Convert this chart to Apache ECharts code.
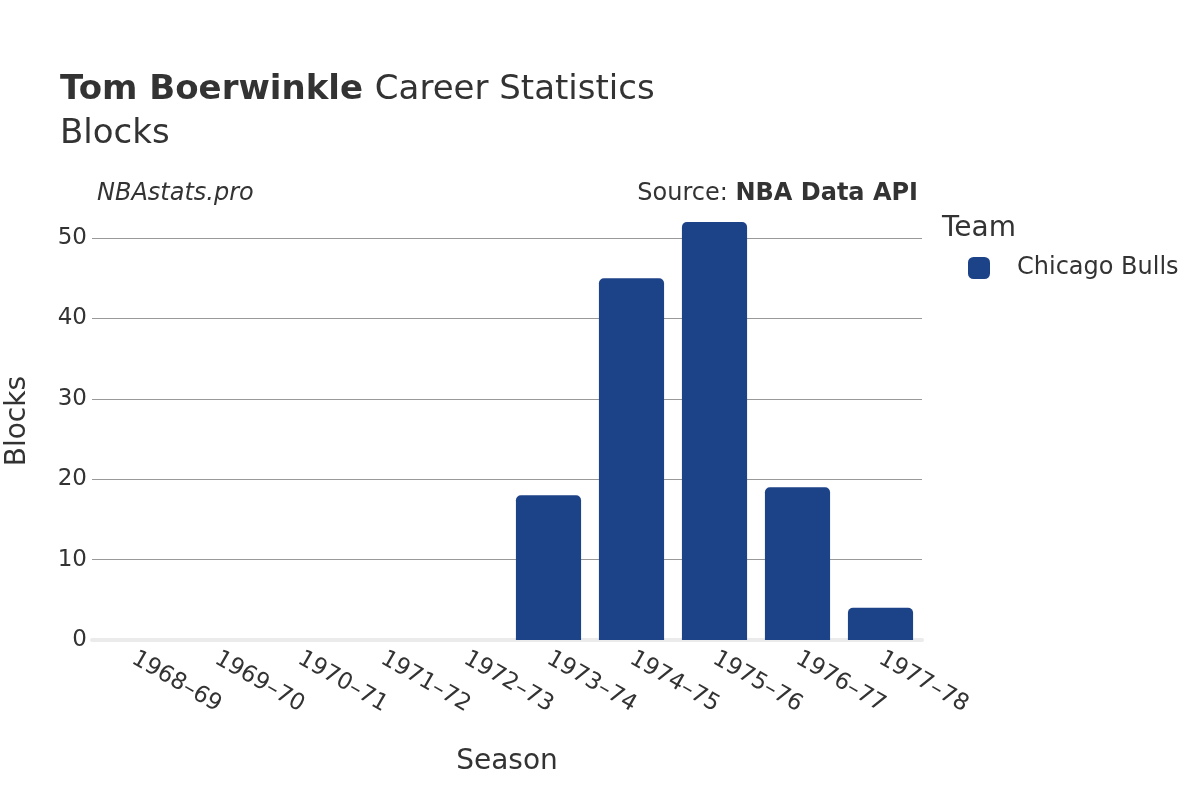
<!DOCTYPE html>
<html><head><meta charset="utf-8">
<script src="https://cdn.jsdelivr.net/npm/echarts@6/dist/echarts.min.js"></script>
<style>html,body{margin:0;padding:0;background:#fff}#c{width:1200px;height:800px}</style>
</head><body><div id="c"></div>
<script>
const seasons = ["1968-69","1969-70","1970-71","1971-72","1972-73","1973-74","1974-75","1975-76","1976-77","1977-78"];
const blocks = [null,null,null,null,null,18,45,52,19,4];
const yTicks = [0,10,20,30,40,50];
const teamName = "Chicago Bulls";

const F = "DejaVu Sans";
const C = '#333';
const chart = echarts.init(document.getElementById('c'));
chart.setOption({
  animation:false,
  textStyle:{fontFamily:F},
  title:[
    {left:60, top:73, padding:0, text:"{b|Tom Boerwinkle }{n|Career Statistics}", textStyle:{fontWeight:'normal',rich:{b:{fontFamily:F,fontSize:34,fontWeight:'bold',color:C},n:{fontFamily:F,fontSize:34,fontWeight:'normal',color:C}}}},
    {left:60, top:117, padding:0, text:"Blocks", textStyle:{fontFamily:F,fontSize:34,fontWeight:'normal',color:C}},
    {left:97, top:182, padding:0, text:"NBAstats.pro", textStyle:{fontFamily:F,fontSize:24,fontStyle:'italic',fontWeight:'normal',color:C}},
    {right:282, top:182, padding:0, text:"{n|Source: }{b|NBA Data API}", textStyle:{fontWeight:'normal',rich:{b:{fontFamily:F,fontSize:24,fontWeight:'bold',color:C},n:{fontFamily:F,fontSize:24,fontWeight:'normal',color:C}}}},
    {left:942, top:215, padding:0, text:"Team", textStyle:{fontFamily:F,fontSize:28,fontWeight:'normal',color:C}}
  ],
  graphic:[
    {type:'text', left:4, top:376, rotation:Math.PI/2, style:{text:'Blocks', fontFamily:F, fontSize:28, fill:C, textAlign:'center', textVerticalAlign:'middle'}},
  ],
  legend:{left:968, top:256, padding:0, orient:'vertical', itemWidth:22, itemHeight:22, itemGap:20,
    textStyle:{fontFamily:F,fontSize:24,color:C,padding:[0,0,0,22]},
    data:[{name:teamName, icon:'roundRect'}]},
  grid:{left:92, right:278, top:238, bottom:160, containLabel:false},
  xAxis:{type:'category', data:seasons,
    name:'Season', nameLocation:'middle', nameGap:108,
    nameTextStyle:{fontFamily:F,fontSize:28,color:C},
    axisLine:{show:true,lineStyle:{color:'#ebebeb',width:4}},
    axisTick:{show:false},
    axisLabel:{rotate:-30, fontFamily:F, fontSize:23, color:C, margin:17, interval:0,
      formatter:v=>v.replace('-','\u2013')}
  },
  yAxis:{type:'value', min:0, max:50, interval:10,
    axisLine:{show:false}, axisTick:{show:false},
    axisLabel:{fontFamily:F,fontSize:23,color:C,margin:5},
    splitLine:{lineStyle:{color:'#999',width:1}}
  },
  series:[{name:teamName, type:'bar', data:blocks, clip:false, barCategoryGap:'21.5%',
    itemStyle:{color:'#1c4288', borderRadius:[5,5,0,0]}}]
});
</script></body></html>
